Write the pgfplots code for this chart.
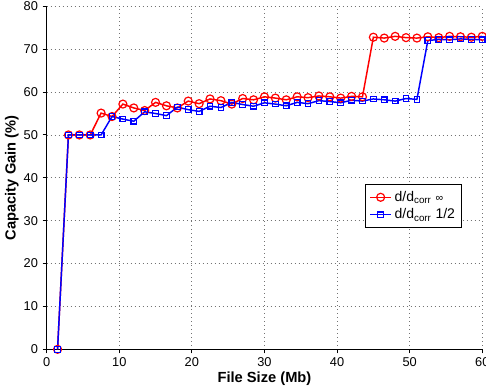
\documentclass[border=0pt]{standalone}
\usepackage{fontspec}
\setmainfont{Liberation Sans}
\usepackage{pgfplots}
\pgfplotsset{compat=1.18}
\begin{document}
\begin{tikzpicture}
\begin{axis}[
  at={(0,0)}, anchor=south west,
  scale only axis,
  width=326.7pt, height=257.25pt,
  xmin=0, xmax=60, ymin=0, ymax=80,
  xtick={0,10,...,60}, ytick={0,10,...,80},
  axis lines=left,
  axis line style={-, line width=1pt, black},
  tick align=outside,
  major tick length=3pt,
  tick style={line width=0.8pt, black},
  grid=major,
  major grid style={gray!90!black, line width=0.6pt, dash pattern=on 0.6pt off 2.4pt},
  /pgf/number format/assume math mode=true,
  ticklabel style={font=\fontsize{9.6}{11}\selectfont},
  xlabel={\textbf{File Size (Mb)}},
  ylabel={\textbf{Capacity Gain (\%)}},
  label style={font=\fontsize{11}{13}\selectfont},
  xlabel style={yshift=3pt},
  ylabel style={yshift=-3pt},
  legend style={at={(0.954,0.482)}, anchor=north east, draw=black, line width=0.8pt,
    font=\fontsize{10.5}{12}\selectfont, row sep=0pt, inner sep=3pt,
    nodes={inner sep=2pt}},
  legend image code/.code={\draw[mark repeat=2,mark phase=2] plot coordinates {(0cm,0cm) (0.28cm,0cm) (0.56cm,0cm)};},
  legend cell align=left,
  every axis plot/.append style={line width=1.1pt},
]
\addplot[red, mark=o, mark size=3pt, mark options={solid, line width=0.9pt}] coordinates {
(1.5,0) (3,50) (4.5,50) (6,50) (7.5,55.1) (9,54.3) (10.5,57.2) (12,56.3)
(13.5,55.7) (15,57.6) (16.5,56.8) (18,56.3) (19.5,57.9) (21,57.3) (22.5,58.4)
(24,58.0) (25.5,57.2) (27,58.5) (28.5,58.2) (30,58.9) (31.5,58.6) (33,58.2)
(34.5,58.9) (36,58.7) (37.5,59.1) (39,58.9) (40.5,58.6) (42,59.0) (43.5,58.9)
(45,72.8) (46.5,72.6) (48,73.0) (49.5,72.7) (51,72.6) (52.5,72.9) (54,72.7)
(55.5,73.0) (57,72.9) (58.5,72.8) (60,73.0)
};
\addlegendentry{d/d\textsubscript{corr} {\fontsize{8}{9}\selectfont ∞}}
\addplot[blue, mark=square, mark size=2.1pt, mark options={solid, line width=0.9pt}] coordinates {
(1.5,0) (3,50) (4.5,50) (6,50) (7.5,50) (9,54.3) (10.5,53.7) (12,53.2)
(13.5,55.4) (15,55.0) (16.5,54.5) (18,56.5) (19.5,55.9) (21,55.5) (22.5,56.7)
(24,56.4) (25.5,57.6) (27,57.1) (28.5,56.7) (30,57.5) (31.5,57.2) (33,56.8)
(34.5,57.6) (36,57.3) (37.5,58.0) (39,57.8) (40.5,57.5) (42,58.1) (43.5,57.9)
(45,58.4) (46.5,58.2) (48,57.9) (49.5,58.5) (51,58.3) (52.5,72.0) (54,72.3)
(55.5,72.2) (57,72.4) (58.5,72.3) (60,72.2)
};
\addlegendentry{d/d\textsubscript{corr} 1/2}
\end{axis}
\pgfresetboundingbox
\path (-35pt,-31.3pt) rectangle (329.5pt,262pt);
\end{tikzpicture}
\end{document}
